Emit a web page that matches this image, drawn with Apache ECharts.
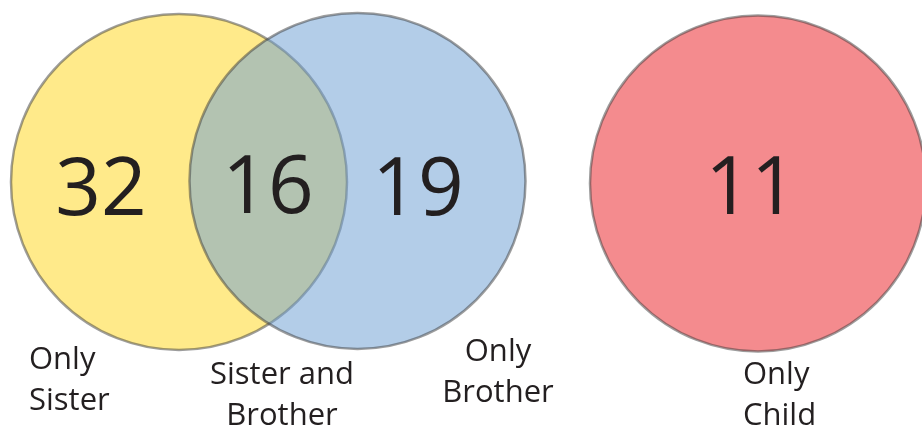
<!DOCTYPE html>
<html lang="en">
  <head>
    <meta charset="UTF-8" />
    <script src="https://cdn.jsdelivr.net/npm/echarts@6/dist/echarts.min.js"></script>
    <title>Sister / Brother Venn</title>
  </head>
  <body style="margin: 0">
    <div id="main" style="width: 922px; height: 429px"></div>
    <script>
      // data
      var setNames = ["Sister", "Brother", "Child"];
      var regionNames = ["Only\nSister", "Sister and\nBrother", "Only\nBrother", "Only\nChild"];
      var regionCounts = [32, 16, 19, 11];

      // layout in chart units (x 0..922, y 0..429, y grows down)
      var circleLayout = [
        [179, 182, 168],
        [357.5, 181, 168],
        [758, 183.5, 168],
      ];
      var countAnchor = [
        [101, 192],
        [268, 190],
        [418, 192],
        [751, 191],
      ];
      var nameAnchor = [
        [29, 381, "left"],
        [282, 396, "center"],
        [498, 373, "center"],
        [743, 396, "left"],
      ];
      var circleFill = ["#FFEA8A", "rgba(112,161,212,0.53)", "#F48B8E"];
      var edge = "rgba(60,60,60,0.5)";
      var ink = "#231f20";
      var font = "'Open Sans', sans-serif";

      var chart = echarts.init(document.getElementById("main"));

      var option = {
        animation: false,
        grid: { left: 0, right: 0, top: 0, bottom: 0 },
        xAxis: { type: "value", min: 0, max: 922, show: false },
        yAxis: { type: "value", min: 0, max: 429, inverse: true, show: false },
        series: [
          {
            type: "custom",
            name: "sets",
            data: setNames.map(function (n, i) {
              return { name: n, value: circleLayout[i] };
            }),
            renderItem: function (params, api) {
              var c = api.coord([api.value(0), api.value(1)]);
              var r = api.size([api.value(2), 0])[0];
              return {
                type: "circle",
                shape: { cx: c[0], cy: c[1], r: r },
                style: { fill: circleFill[params.dataIndex], stroke: edge, lineWidth: 2.5 },
              };
            },
          },
          {
            type: "custom",
            name: "counts",
            data: regionCounts.map(function (v, i) {
              return { name: regionNames[i], value: [countAnchor[i][0], countAnchor[i][1], v] };
            }),
            renderItem: function (params, api) {
              var c = api.coord([api.value(0), api.value(1)]);
              return {
                type: "text",
                x: c[0],
                y: c[1],
                style: {
                  text: String(api.value(2)),
                  fontFamily: font,
                  fontSize: 80,
                  fill: ink,
                  align: "center",
                  verticalAlign: "middle",
                },
              };
            },
          },
          {
            type: "custom",
            name: "names",
            data: regionNames.map(function (n, i) {
              return { name: n, value: [nameAnchor[i][0], nameAnchor[i][1]] };
            }),
            renderItem: function (params, api) {
              var c = api.coord([api.value(0), api.value(1)]);
              return {
                type: "text",
                x: c[0],
                y: c[1],
                style: {
                  text: regionNames[params.dataIndex],
                  fontFamily: font,
                  fontSize: 31,
                  lineHeight: 41,
                  fill: ink,
                  align: nameAnchor[params.dataIndex][2],
                  verticalAlign: "middle",
                },
              };
            },
          },
        ],
      };
      chart.setOption(option);
    </script>
  </body>
</html>
